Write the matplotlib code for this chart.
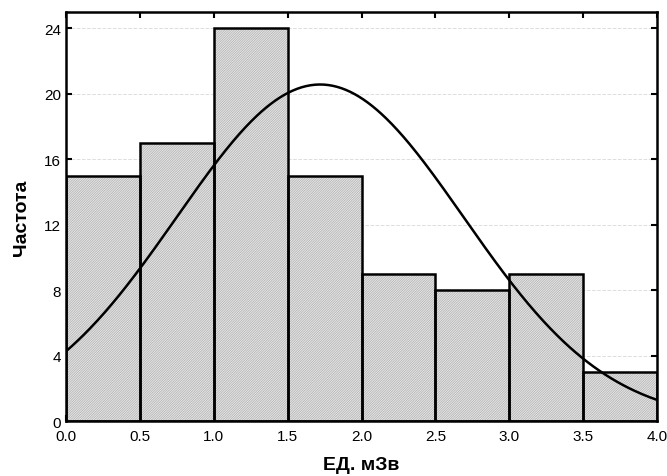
import matplotlib
matplotlib.use('Agg')
import matplotlib.pyplot as plt
import numpy as np

plt.rcParams['font.family'] = ['Liberation Sans', 'DejaVu Sans']
plt.rcParams['hatch.linewidth'] = 0.5

bin_left = [0.0, 0.5, 1.0, 1.5, 2.0, 2.5, 3.0, 3.5]
counts = [15, 17, 24, 15, 9, 8, 9, 3]
bin_width = 0.5
fit_mean = 1.72
fit_sd = 0.97
n_total = sum(counts)

fig = plt.figure(figsize=(6.67, 4.77), dpi=100)
ax = fig.add_axes([0.099, 0.115, 0.886, 0.858])

# fill with fine light hatch, then black outlines on top
ax.bar(bin_left, counts, width=bin_width, align='edge', facecolor='#e6e6e6',
       edgecolor='#b0b0b0', linewidth=0, hatch='/' * 14, zorder=2)
ax.bar(bin_left, counts, width=bin_width, align='edge', fill=False,
       edgecolor='black', linewidth=1.8, zorder=2.5)

xs = np.linspace(0, 4, 400)
ys = n_total * bin_width / (fit_sd * np.sqrt(2 * np.pi)) * np.exp(-0.5 * ((xs - fit_mean) / fit_sd) ** 2)
ax.plot(xs, ys, color='black', linewidth=1.8, zorder=3)

ax.set_xlim(0, 4)
ax.set_ylim(0, 25)
ax.set_xticks(np.arange(0, 4.01, 0.5))
ax.set_xticklabels(['%.1f' % v for v in np.arange(0, 4.01, 0.5)])
ax.set_yticks(range(0, 25, 4))
ax.yaxis.grid(True, linestyle='--', color='#dddddd', linewidth=0.7, zorder=0)
ax.set_axisbelow(True)
ax.tick_params(direction='in', top=True, right=True, length=4, width=1.5, labelsize=11)
ax.tick_params(axis='x', pad=6)
for s in ax.spines.values():
    s.set_linewidth(1.8)

ax.set_xlabel('ЕД. мЗв', fontsize=14, fontweight='bold', labelpad=9)
ax.set_ylabel('Частота', fontsize=14, fontweight='bold', labelpad=10)

fig.savefig('out.png', dpi=100)
